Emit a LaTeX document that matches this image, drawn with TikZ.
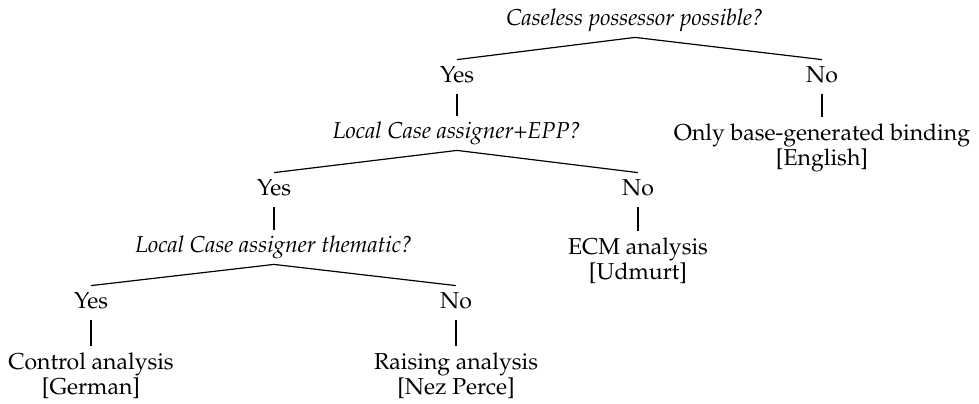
\documentclass[tikz,border=0pt]{standalone}
\usepackage[T1]{fontenc}
\usepackage{mathpazo}
\usepackage{tikz}
\usetikzlibrary{positioning}

\tikzset{
  txt/.style={font=\fontsize{11.5pt}{11.5pt}\selectfont, text height=8pt, text depth=2.5pt, inner xsep=0pt, inner ysep=3.25pt},
  question/.style={txt, font=\fontsize{11.5pt}{11.5pt}\selectfont\itshape},
  answer/.style={txt},
  leaf/.style={font=\fontsize{11.5pt}{11.5pt}\selectfont, align=center, anchor=north, inner xsep=0pt, inner ysep=3.25pt},
  branch/.style={line width=0.6pt}
}

\begin{document}
\begin{tikzpicture}[x=0.5pt,y=-0.5pt]
      \useasboundingbox (0,0) rectangle (979,403);

      \node[question] (q1) at (635,20) {Caseless possessor possible?};
      \node[answer] (y1) at (457,77) {Yes};
      \node[answer] (n1) at (822,77) {No};
      \node[question] (q2) at (457,133) {Local Case assigner+EPP?};
      \node[leaf] (l1) at (822,117) {Only base-generated binding\\{}[English]};

      \node[answer] (y2) at (274,190) {Yes};
      \node[answer] (n2) at (638,190) {No};
      \node[question] (q3) at (274,247) {Local Case assigner thematic?};
      \node[leaf] (l2) at (638,231) {ECM analysis\\{}[Udmurt]};

      \node[answer] (y3) at (91,303) {Yes};
      \node[answer] (n3) at (456,303) {No};
      \node[leaf] (l3) at (91,346) {Control analysis\\{}[German]};
      \node[leaf] (l4) at (456,346) {Raising analysis\\{}[Nez Perce]};

      \draw[branch] (q1.south) -- (y1.north);
      \draw[branch] (q1.south) -- (n1.north);
      \draw[branch] (y1.south) -- (q2.north);
      \draw[branch] (n1.south) -- (l1.north);

      \draw[branch] (q2.south) -- (y2.north);
      \draw[branch] (q2.south) -- (n2.north);
      \draw[branch] (y2.south) -- (q3.north);
      \draw[branch] (n2.south) -- (l2.north);

      \draw[branch] (q3.south) -- (y3.north);
      \draw[branch] (q3.south) -- (n3.north);
      \draw[branch] (y3.south) -- (l3.north);
      \draw[branch] (n3.south) -- (l4.north);
\end{tikzpicture}
\end{document}
